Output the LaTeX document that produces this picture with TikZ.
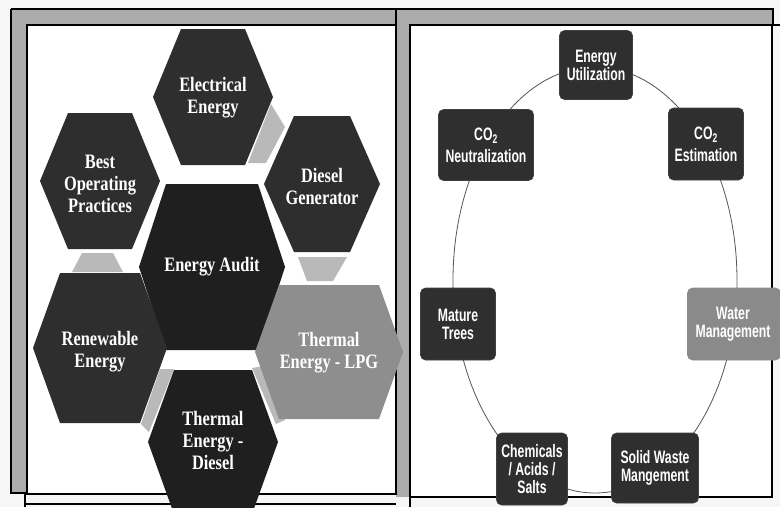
\documentclass[tikz,border=0pt]{standalone}
\usepackage{fontspec}
\newfontfamily\hexfont{Liberation Serif}[FakeStretch=0.8]
\newfontfamily\boxfont{Liberation Sans}[FakeStretch=0.68]
\definecolor{bandgray}{HTML}{ABABAB}
\definecolor{hexdark}{HTML}{2E2E2E}
\definecolor{hexdarker}{HTML}{1F1F1F}
\definecolor{hexlight}{HTML}{8E8E8E}
\definecolor{linkgray}{HTML}{B9B9B9}
\definecolor{boxdark}{HTML}{2F2F2F}
\definecolor{boxlight}{HTML}{8A8A8A}
\definecolor{paper}{HTML}{F6F6F6}
\definecolor{ringgray}{HTML}{555555}
\newcommand\hexpath[6]{%
  \fill[#6] ({#1-#3},#2) -- ({#1-#5},{#2-#4}) -- ({#1+#5},{#2-#4}) --
    ({#1+#3},#2) -- ({#1+#5},{#2+#4}) -- ({#1-#5},{#2+#4}) -- cycle;}
\begin{document}
\begin{tikzpicture}[x=1pt,y=-1pt,
  hexlabel/.style={text=white,align=center,inner sep=0pt,
    font=\hexfont\bfseries\fontsize{20.5}{22}\selectfont},
  boxnode/.style={draw=black!75,line width=0.6pt,rounded corners=5pt,
    fill=boxdark,text=white,align=center,inner sep=0pt,
    font=\boxfont\bfseries\fontsize{18}{18}\selectfont},
  boxtext/.style={text=white,align=center,inner sep=0pt,
    font=\boxfont\bfseries\fontsize{18}{18}\selectfont},
  frameline/.style={line width=2.6pt,black},
  link/.style={fill=linkgray},
  ring/.style={draw=ringgray,line width=0.8pt}]
\useasboundingbox (0,0) rectangle (780,507);
\clip (0,0) rectangle (780,507);
\fill[paper] (0,0) rectangle (780,507);
% gray bands
\fill[bandgray] (11,9) rectangle (773,25);
\fill[bandgray] (11,9) rectangle (27,493);
\fill[bandgray] (396,9) rectangle (410,497);
% panels
\fill[white] (27,25) rectangle (396,494);
\fill[white] (410,25) rectangle (772,497);
% frame lines
\draw[frameline] (11,9) -- (773,9) -- (773,25) -- (780,25);
\draw[frameline] (11,9) -- (11,493) -- (27,493);
\draw[frameline] (27,25) rectangle (396,494);
\draw[frameline] (396,9) -- (396,25);
\draw[frameline] (410,25) rectangle (772,497);
\draw[frameline] (410,497) -- (410,507);
\draw[frameline] (25,493) -- (25,507);
\draw[frameline] (25,504) -- (396,504);
% ring on the right
\draw[ring] (595,280) ellipse [x radius=142pt, y radius=213pt];
% connector strips between hexagons
\fill[link] (271,104) -- (285,127) -- (266,163) -- (248,163) -- cycle;
\fill[link] (298,257) -- (347,257) -- (333,281) -- (307,281) -- cycle;
\fill[link] (82,253) -- (113,253) -- (123,272) -- (72,272) -- cycle;
\fill[link] (160,369) -- (174,369) -- (149,432) -- (141,424) -- cycle;
\fill[link] (252,368) -- (264,366) -- (285,420) -- (276,424) -- cycle;
% hexagons
\hexpath{213}{97}{60}{68}{32}{hexdark}
\hexpath{100}{181}{60}{68}{32}{hexdark}
\hexpath{322}{184}{58}{68}{28}{hexdark}
\hexpath{212}{267}{73}{83}{46}{hexdarker}
\hexpath{100}{348}{67}{75}{40}{hexdark}
\hexpath{329}{352}{74}{67}{50}{hexlight}
\hexpath{213}{442}{65}{72}{39}{hexdarker}
% hexagon labels
\node[hexlabel] (elec) at (213,98) {Electrical\\Energy};
\node[hexlabel] (best) at (100,184) {Best\\Operating\\Practices};
\node[hexlabel] (dg) at (322,186) {Diesel\\Generator};
\node[hexlabel] (audit) at (212,267) {Energy Audit};
\node[hexlabel] (renew) at (100,352) {Renewable\\Energy};
\node[hexlabel] (lpg) at (329,353) {Thermal\\Energy - LPG};
\node[hexlabel] (thd) at (213,440) {Thermal\\Energy -\\Diesel};
% boxes on the ring
\node[boxnode,minimum width=73pt,minimum height=69pt] (util) at (596,65) {Energy\\Utilization};
\node[boxnode,minimum width=95pt,minimum height=71pt] (neut) at (486,145) {CO\textsubscript{2}\\[4pt]Neutralization};
\node[boxnode,minimum width=75pt,minimum height=72pt] (est) at (706,144) {CO\textsubscript{2}\\[4pt]Estimation};
\node[boxnode,minimum width=75pt,minimum height=72pt] (trees) at (458,324) {Mature\\Trees};
\node[boxnode,fill=boxlight,draw=black!45,minimum width=93pt,minimum height=72pt] (water) at (734,324) {};
\begin{scope}
  \clip (690,280) rectangle (771,370);
  \node[boxtext] (watertext) at (733,324) {Water\\Management};
\end{scope}
\node[boxnode,minimum width=71pt,minimum height=72pt] (chem) at (532,469) {Chemicals\\/ Acids /\\Salts};
\node[boxnode,minimum width=87pt,minimum height=70pt] (solid) at (655,468) {Solid Waste\\Mangement};
\end{tikzpicture}
\end{document}
